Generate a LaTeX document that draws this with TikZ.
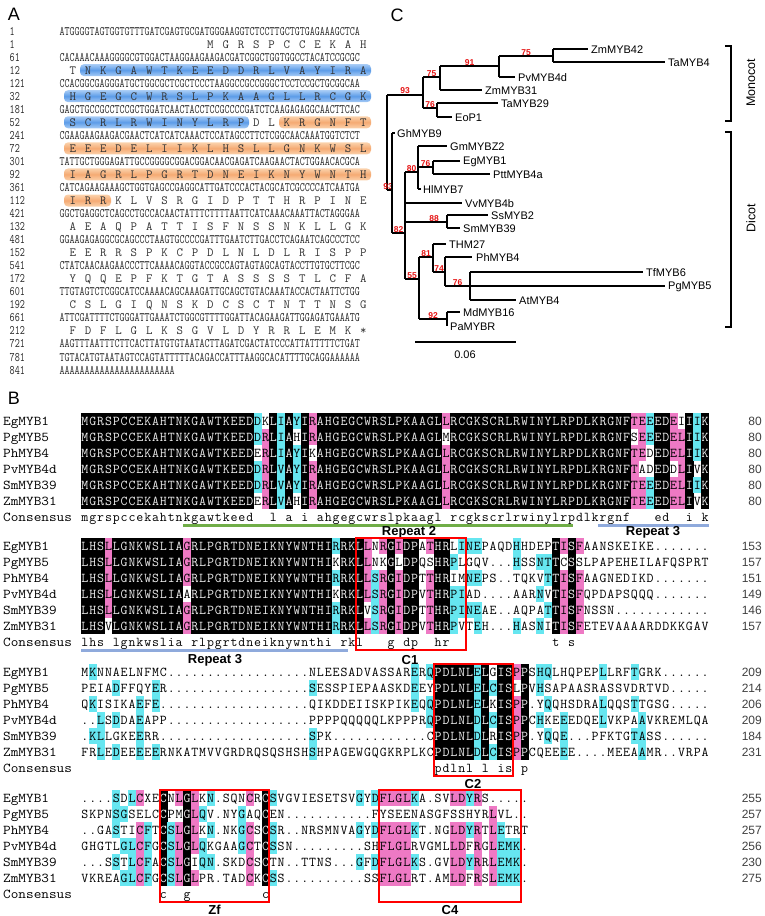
\documentclass[tikz,border=0pt]{standalone}
\usepackage{fontspec}
\usepackage{graphicx}
\newfontfamily\arial{Liberation Sans}
\definecolor{pinkbg}{RGB}{238,121,196}
\definecolor{cyanbg}{RGB}{102,230,240}
\definecolor{blueA}{RGB}{92,156,232}
\definecolor{blueB}{RGB}{168,204,246}
\definecolor{orA}{RGB}{245,170,115}
\definecolor{orB}{RGB}{251,210,172}
\definecolor{repgreen}{RGB}{112,173,71}
\definecolor{repblue}{RGB}{143,170,220}
\definecolor{bsred}{RGB}{230,20,20}
\tikzset{
 tree/.style={line width=1.2pt},
 taxon/.style={font=\arial\fontsize{11}{12}\selectfont, anchor=west, inner sep=0pt},
 bs/.style={font=\arial\bfseries\fontsize{8.5}{9}\selectfont, text=bsred, inner sep=0pt},
 res/.style={font=\fontsize{13.5}{14}\selectfont\ttfamily, inner sep=0pt, anchor=base},
 seqA/.style={font=\fontsize{13}{13}\selectfont\ttfamily, inner sep=0pt, anchor=base west, text=black!85},
 protA/.style={font=\fontsize{12.5}{13}\selectfont\ttfamily, inner sep=0pt, anchor=base, text=black!80},
 panel/.style={font=\arial\fontsize{18}{20}\selectfont, inner sep=0pt},
 replabel/.style={font=\arial\bfseries\fontsize{13}{14}\selectfont, inner sep=0pt},
 boxred/.style={draw=red, line width=2pt},
 numlab/.style={font=\arial\fontsize{12}{13}\selectfont, anchor=base east, inner sep=0pt, text=black!75},
 seqname/.style={font=\fontsize{13.5}{14}\selectfont\ttfamily, anchor=base west, inner sep=0pt},
 bluebar/.style={top color=blueB, bottom color=blueB, middle color=blueA},
 orbar/.style={top color=orB, bottom color=orB, middle color=orA},
}
\newcommand\alcell[4]{%
  \ifcase#3\relax
  \or\fill[cyanbg] ({81+(#1-1)*7.85},{#2-8}) rectangle ++(8.05,16.3);%
  \or\fill[pinkbg] ({81+(#1-1)*7.85},{#2-8}) rectangle ++(8.05,16.3);%
  \or\fill[black] ({81+(#1-1)*7.85},{#2-8}) rectangle ++(8.05,16.3);%
  \fi
  \ifnum#3=3\relax
    \node[res,text=gray!15] at ({81+(#1-0.5)*7.85},{#2+4.3}) {#4};%
  \else
    \node[res] at ({81+(#1-0.5)*7.85},{#2+4.3}) {#4};%
  \fi}
\newcommand\alcons[3]{\node[res] at ({81+(#1-0.5)*7.85},{#2+4.3}) {\lowercase{#3}};}
\newcommand\protres[3]{\node[protA] at (#1,{31+13.04*#2+4}) {#3};}
\newcommand\seqbar[4]{\path[#4, rounded corners=4pt] (#1,{31+13.04*#3-6}) rectangle (#2,{31+13.04*#3+6});}
\newcommand\alnames[1]{%
 \foreach \nm [count=\k from 0] in {EgMYB1,PgMYB5,PhMYB4,PvMYB4d,SmMYB39,ZmMYB31,Consensus}
   {\node[seqname] at (3,{#1+16*\k+4.3}) {\scalebox{1.1}[1]{\nm}};}}
\newcommand\alnums[2]{%
 \foreach \v [count=\k from 0] in {#2}
   {\node[numlab] at (762,{#1+16*\k+4.3}) {\v};}}
\ExplSyntaxOn
\int_new:N \l_al_cnt_int
\int_new:N \l_al_mode_int
\int_new:N \l_al_k_int
\tl_new:N \l_al_c_tl
\tl_new:N \l_al_d_tl
\tl_new:N \l_al_y_tl
\int_step_inline:nn {6} { \tl_new:c { l_al_row_#1_tl } }
\cs_new:Npn \al_char:nn #1#2 { \tl_item:cn { l_al_row_#1_tl } {#2} }
\cs_new_protected:Npn \al_count:nn #1#2
 {
  \int_zero:N \l_al_cnt_int
  \tl_set:Nx \l_al_c_tl { \al_char:nn {#1} {#2} }
  \str_if_eq:VnF \l_al_c_tl { . }
   {
    \int_step_inline:nn {6}
     {
      \tl_set:Nx \l_al_d_tl { \al_char:nn {##1} {#2} }
      \tl_if_eq:NNT \l_al_c_tl \l_al_d_tl { \int_incr:N \l_al_cnt_int }
     }
   }
 }
\cs_new_protected:Npn \al_cell:nn #1#2
 {
  \al_count:nn {#1} {#2}
  \int_set:Nn \l_al_mode_int
   {
    \int_compare:nNnTF \l_al_cnt_int = 6 { 3 }
     {
      \int_compare:nNnTF \l_al_cnt_int = 5 { 2 }
       { \int_compare:nNnTF \l_al_cnt_int > 2 { 1 } { 0 } }
     }
   }
  \use:x
   {
    \exp_not:N \alcell {#2}
     { \fp_eval:n { \l_al_y_tl + (#1 - 1) * 16 } }
     { \int_use:N \l_al_mode_int }
     { \exp_not:V \l_al_c_tl }
   }
  \int_compare:nNnT {#1} = {1}
   {
    \int_compare:nNnT \l_al_cnt_int = 6
     {
      \use:x
       {
        \exp_not:N \alcons {#2}
         { \fp_eval:n { \l_al_y_tl + 6 * 16 } }
         { \exp_not:V \l_al_c_tl }
       }
     }
   }
 }
\NewDocumentCommand \alblock { m m m m m m m }
 {
  \tl_set:Nn \l_al_y_tl {#1}
  \tl_set:cn { l_al_row_1_tl } {#2}
  \tl_set:cn { l_al_row_2_tl } {#3}
  \tl_set:cn { l_al_row_3_tl } {#4}
  \tl_set:cn { l_al_row_4_tl } {#5}
  \tl_set:cn { l_al_row_5_tl } {#6}
  \tl_set:cn { l_al_row_6_tl } {#7}
  \int_step_inline:nn { \tl_count:c { l_al_row_1_tl } }
   {
    \int_step_inline:nn {6} { \al_cell:nn {####1} {##1} }
   }
 }
\NewDocumentCommand \protrow { m m m }
 {
  \int_zero:N \l_al_k_int
  \tl_map_inline:nn {#3}
   {
    \int_incr:N \l_al_k_int
    \use:x
     {
      \exp_not:N \protres
       { \fp_eval:n { 60 + (#2 + 3 * \l_al_k_int - 0.5) * 5.1 } }
       {#1}
       { \exp_not:n {##1} }
     }
   }
 }
\ExplSyntaxOff
\begin{document}
\begin{tikzpicture}[x=1pt,y=-1pt]
\useasboundingbox (0,0) rectangle (765,916);
\fill[white] (0,0) rectangle (765,916);
% ---------------- panel labels
\node[panel] (labA) at (14,14) {A};
\node[panel] (labB) at (14,398) {B};
\node[panel] (labC) at (397,15) {C};
% ---------------- panel A : highlight bars
\seqbar{80}{371}{3}{bluebar}
\seqbar{64}{371}{5}{bluebar}
\seqbar{64}{249}{7}{bluebar}
\seqbar{279}{371}{7}{orbar}
\seqbar{64}{371}{9}{orbar}
\seqbar{64}{371}{11}{orbar}
\seqbar{64}{111}{13}{orbar}
% ---------------- panel A : DNA rows
\foreach \i/\n/\s in {
 0/1/ATGGGGTAGTGGTGTTTGATCGAGTGCGATGGGAAGGTCTCCTTGCTGTGAGAAAGCTCA,
 2/61/CACAAACAAAGGGGCGTGGACTAAGGAAGAAGACGATCGGCTGGTGGCCTACATCCGCGC,
 4/121/CCACGGCGAGGGATGCTGGCGCTCGCTCCCTAAGGCCGCCGGGCTCCTCCGCTGCGGCAA,
 6/181/GAGCTGCCGCCTCCGCTGGATCAACTACCTCCGCCCCGATCTCAAGAGAGGCAACTTCAC,
 8/241/CGAAGAAGAAGACGAACTCATCATCAAACTCCATAGCCTTCTCGGCAACAAATGGTCTCT,
 10/301/TATTGCTGGGAGATTGCCGGGGCGGACGGACAACGAGATCAAGAACTACTGGAACACGCA,
 12/361/CATCAGAAGAAAGCTGGTGAGCCGAGGCATTGATCCCACTACGCATCGCCCCATCAATGA,
 14/421/GGCTGAGGCTCAGCCTGCCACAACTATTTCTTTTAATTCATCAAACAAATTACTAGGGAA,
 16/481/GGAAGAGAGGCGCAGCCCTAAGTGCCCCGATTTGAATCTTGACCTCAGAATCAGCCCTCC,
 18/541/CTATCAACAAGAACCCTTCAAAACAGGTACCGCCAGTAGTAGCAGTACCTTGTGCTTCGC,
 20/601/TTGTAGTCTCGGCATCCAAAACAGCAAAGATTGCAGCTGTACAAATACCACTAATTCTGG,
 22/661/ATTCGATTTTCTGGGATTGAAATCTGGCGTTTTGGATTACAGAAGATTGGAGATGAAATG,
 24/721/AAGTTTAATTTCTTCACTTATGTGTAATACTTAGATCGACTATCCCATTATTTTTCTGAT,
 25/781/TGTACATGTAATAGTCCAGTATTTTTACAGACCATTTAAGGCACATTTTGCAGGAAAAAA,
 26/841/AAAAAAAAAAAAAAAAAAAAAAA}
 {\node[seqA] at (9.5,{31+13.04*\i+4}) {\scalebox{0.76}[1]{\n}};
  \node[seqA] at (59.5,{31+13.04*\i+4}) {\scalebox{0.747}[1]{\s}};}
\foreach \i/\n in {1/1,3/12,5/32,7/52,9/72,11/92,13/112,15/132,17/152,19/172,21/192,23/212}
 {\node[seqA] at (9.5,{31+13.04*\i+4}) {\scalebox{0.76}[1]{\n}};}
\protrow{1}{27}{MGRSPCCEKAH}
\protrow{3}{0}{TNKGAWTKEEDDRLVAYIRA}
\protrow{5}{0}{HGEGCWRSLPKAAGLLRCGK}
\protrow{7}{0}{SCRLRWINYLRPDLKRGNFT}
\protrow{9}{0}{EEEDELIIKLHSLLGNKWSL}
\protrow{11}{0}{IAGRLPGRTDNEIKNYWNTH}
\protrow{13}{0}{IRRKLVSRGIDPTTHRPINE}
\protrow{15}{0}{AEAQPATTISFNSSNKLLGK}
\protrow{17}{0}{EERRSPKCPDLNLDLRISPP}
\protrow{19}{0}{YQQEPFKTGTASSSSTLCFA}
\protrow{21}{0}{CSLGIQNSKDCSCTNTTNSG}
\protrow{23}{0}{FDFLGLKSGVLDYRRLEMK*}
% ---------------- panel C : tree
\draw[tree] (387,95) -- (387,190);
\draw[tree] (387,95) -- (423,95);
\node[bs] at (405,91) {93};
\draw[tree] (423,77) -- (423,108);
\draw[tree] (423,77) -- (440,77);
\node[bs] at (431.5,73.5) {75};
\draw[tree] (440,66) -- (440,90);
\draw[tree] (440,66) -- (499,66);
\node[bs] at (469.5,62.5) {91};
\draw[tree] (499,56) -- (499,77);
\draw[tree] (499,56) -- (553,56);
\node[bs] at (526,52.5) {75};
\draw[tree] (553,49) -- (553,62);
\draw[tree] (553,49) -- (588,49);
\node[taxon] (ZmMYB42) at (591,49.5) {ZmMYB42};
\draw[tree] (553,62) -- (665,62);
\node[taxon] (TaMYB4) at (668,62.5) {TaMYB4};
\draw[tree] (499,77) -- (515,77);
\node[taxon] (PvMYB4d) at (518,77.5) {PvMYB4d};
\draw[tree] (440,90) -- (482,90);
\node[taxon] (ZmMYB31) at (485,90.5) {ZmMYB31};
\draw[tree] (423,108) -- (437,108);
\node[bs] at (430,104.5) {76};
\draw[tree] (437,103) -- (437,117);
\draw[tree] (437,103) -- (498,103);
\node[taxon] (TaMYB29) at (501,103.5) {TaMYB29};
\draw[tree] (437,117) -- (452,117);
\node[taxon] (EoP1) at (455,117.5) {EoP1};
\draw[tree] (387,190) -- (392,190);
\node[bs] at (388,186.5) {93};
\draw[tree] (392,133) -- (392,233);
\draw[tree] (392,133) -- (395,133);
\node[taxon] (GhMYB9) at (397,133.5) {GhMYB9};
\draw[tree] (392,233) -- (405,233);
\node[bs] at (398.5,229.5) {82};
\draw[tree] (405,172) -- (405,279);
\draw[tree] (405,172) -- (418,172);
\node[bs] at (411.5,168.5) {80};
\draw[tree] (418,146) -- (418,189);
\draw[tree] (418,146) -- (447,146);
\node[taxon] (GmMYBZ2) at (450,146.5) {GmMYBZ2};
\draw[tree] (418,167) -- (433,167);
\node[bs] at (425.5,163.5) {76};
\draw[tree] (433,161) -- (433,174);
\draw[tree] (433,161) -- (460,161);
\node[taxon] (EgMYB1t) at (463,161.5) {EgMYB1};
\draw[tree] (433,174) -- (490,174);
\node[taxon] (PttMYB4a) at (493,174.5) {PttMYB4a};
\draw[tree] (418,189) -- (421,189);
\node[taxon] (HlMYB7) at (423,189.5) {HlMYB7};
\draw[tree] (405,203) -- (462,203);
\node[taxon] (VvMYB4b) at (465,203.5) {VvMYB4b};
\draw[tree] (405,222) -- (447,222);
\node[bs] at (434,218.5) {88};
\draw[tree] (447,215) -- (447,228);
\draw[tree] (447,215) -- (488,215);
\node[taxon] (SsMYB2) at (491,215.5) {SsMYB2};
\draw[tree] (447,228) -- (460,228);
\node[taxon] (SmMYB39t) at (463,228.5) {SmMYB39};
\draw[tree] (405,279) -- (419,279);
\node[bs] at (412,275.5) {55};
\draw[tree] (419,257) -- (419,319);
\draw[tree] (419,257) -- (433,257);
\node[bs] at (426,253.5) {81};
\draw[tree] (433,244) -- (433,272);
\draw[tree] (433,244) -- (446,244);
\node[taxon] (THM27) at (449,244.5) {THM27};
\draw[tree] (433,272) -- (445,272);
\node[bs] at (439,268.5) {74};
\draw[tree] (445,257) -- (445,286);
\draw[tree] (445,257) -- (472,257);
\node[taxon] (PhMYB4t) at (476,257.5) {PhMYB4};
\draw[tree] (445,286) -- (470,286);
\node[bs] at (457.5,282.5) {76};
\draw[tree] (470,272) -- (470,300);
\draw[tree] (470,272) -- (643,272);
\node[taxon] (TfMYB6) at (646,272.5) {TfMYB6};
\draw[tree] (470,286) -- (665,286);
\node[taxon] (PgMYB5t) at (668,286.5) {PgMYB5};
\draw[tree] (470,300) -- (516,300);
\node[taxon] (AtMYB4) at (519,300.5) {AtMYB4};
\draw[tree] (419,319) -- (447,319);
\node[bs] at (433,315.5) {92};
\draw[tree] (447,312) -- (447,326);
\draw[tree] (447,312) -- (460,312);
\node[taxon] (MdMYB16) at (463,312.5) {MdMYB16};
\node[taxon] (PaMYBR) at (450,327) {PaMYBR};
\draw[tree] (415,342) -- (516,342);
\node[font=\arial\fontsize{11}{12}\selectfont, inner sep=0pt] (scale) at (465,355) {0.06};
\draw[tree] (725,46) -- (731,46) -- (731,121) -- (725,121);
\node[rotate=90, font=\arial\fontsize{12.5}{13}\selectfont, inner sep=0pt] (mono) at (751,83) {Monocot};
\draw[tree] (725,132) -- (731,132) -- (731,327) -- (725,327);
\node[rotate=90, font=\arial\fontsize{12.5}{13}\selectfont, inner sep=0pt] (dico) at (751,218) {Dicot};
% ---------------- panel B : alignment
\alnames{421}
\alblock{421}
{MGRSPCCEKAHTNKGAWTKEEDDKLIAYIRAHGEGCWRSLPKAAGLLRCGKSCRLRWINYLRPDLKRGNFTEEEDEIIIK}
{MGRSPCCEKAHTNKGAWTKEEDDRLIAHIRAHGEGCWRSLPKAAGLMRCGKSCRLRWINYLRPDLKRGNFSEEEDELIIK}
{MGRSPCCEKAHTNKGAWTKEEDERLIAYIKAHGEGCWRSLPKAAGLLRCGKSCRLRWINYLRPDLKRGNFTEDEDELIIK}
{MGRSPCCEKAHTNKGAWTKEEDDRLVAYIRAHGEGCWRSLPKAAGLLRCGKSCRLRWINYLRPDLKRGNFTADEDDLIVK}
{MGRSPCCEKAHTNKGAWTKEEDDRLVAYIRAHGEGCWRSLPKAAGLLRCGKSCRLRWINYLRPDLKRGNFTEEEDELIIK}
{MGRSPCCEKAHTNKGAWTKEEDERLVAHIRAHGEGCWRSLPKAAGLLRCGKSCRLRWINYLRPDLKRGNFTEEEDELIVK}
\alnums{421}{80,80,80,80,80,80}
\draw[repgreen, line width=3pt] (183,525) -- (573,525);
\draw[repblue, line width=3pt] (598,525) -- (709,525);
\node[replabel] (rep2) at (409,532) {Repeat 2};
\node[replabel] (rep3a) at (653,532) {Repeat 3};
\alnames{546}
\alblock{546}
{LHSLLGNKWSLIAGRLPGRTDNEIKNYWNTHIRRKLLNRGIDPATHRLINEPAQDHHDEPTISFAANSKEIKE.......}
{LHSLLGNKWSLIAGRLPGRTDNEIKNYWNTHIKRKLLNKGLDPQSHRPLGQV...HSSNTTCSSLPAPEHEILAFQSPRT}
{LHSLLGNKWSLIAGRLPGRTDNEIKNYWNTHIRRKLLSRGIDPTTHRIMNEPS..TQKVTTISFAAGNEDIKD.......}
{LHSLLGNKWSLIAARLPGRTDNEIKNYWNTHIKRKLLSRGIDPVTHRPIAD....AARNVTISFQPDAPSQQQ.......}
{LHSLLGNKWSLIAGRLPGRTDNEIKNYWNTHIRRKLVSRGIDPTTHRPINEAE..AQPATTISFNSSN............}
{LHSVLGNKWSLIAGRLPGRTDNEIKNYWNTHIRRKLLSRGIDPVTHRPVTEH...HASNITISFETEVAAAARDDKKGAV}
\alnums{546}{153,157,151,149,146,157}
\draw[repblue, line width=3pt] (81,650) -- (348,650);
\node[replabel] (rep3b) at (215,660) {Repeat 3};
\draw[boxred] (355.75,538) rectangle (465.65,650);
\node[replabel] (c1) at (410,660) {C1};
\alnames{672}
\alblock{672}
{MKNNAELNFMC..................NLEESADVASSARERQPDLNLELGISPPSHQLHQPEPLLRFTGRK......}
{PEIADFFQYER..................SESSPIEPAASKDEEYPDLNLELCISLPVHSAPAASRASSVDRTVD.....}
{QKISIKAEFE...................QIKDDEIISKPIKEQQPDLNLELKISPP.YQQHSDRALQQSTTGSG.....}
{..LSDDAEAPP..................PPPPQQQQQLKPPPRQPDLNLDLCISPPCHKEEEDQELVKPAAVKREMLQA}
{.KLLGKEERR...................SPK............CPDLNLDLRISPP.YQQE...PFKTGTASS......}
{FRLEDEEEEERNKATMVVGRDRQSQSHSHSHPAGEWGQGKRPLKCPDLNLDLCISPPCQEEEE....MEEAAMR..VRPA}
\alnums{672}{209,214,206,209,184,231}
\draw[boxred] (434.25,664) rectangle (512.75,776);
\node[replabel] (c2) at (473,784) {C2};
\alnames{798}
\alblock{798}
{....SDLCXECNLGLKN.SQNCRCSVGVIESETSVGYDFLGLKA.SVLDYRS.....}
{SKPNSGSELCCPMGLQV.NYGAQCEN...........FYSEENASGFSSHYRLVL..}
{..GASTICFTCSLGLKN.NKGCSCSR..NRSMNVAGYDFLGLKT.NGLDYRTLETRT}
{GHGTLGLCFGCSLGLQKGAAGCTCSSN.........SHFLGLRVGMLLDFRGLEMK.}
{...SSTLCFACSLGIQN.SKDCSCTN..TTNS...GFDFLGLKS.GVLDYRRLEMK.}
{VKREAGLCFGCSLGLPR.TADCKCSS..........SSFLGLRT.AMLDFRSLEMK.}
\alnums{798}{255,257,257,256,230,275}
\draw[boxred] (159.5,790) rectangle (269.4,902);
\draw[boxred] (379.3,790) rectangle (520.6,902);
\node[replabel] (zf) at (214.5,910) {Zf};
\node[replabel] (c4) at (450,910) {C4};
\end{tikzpicture}
\end{document}
